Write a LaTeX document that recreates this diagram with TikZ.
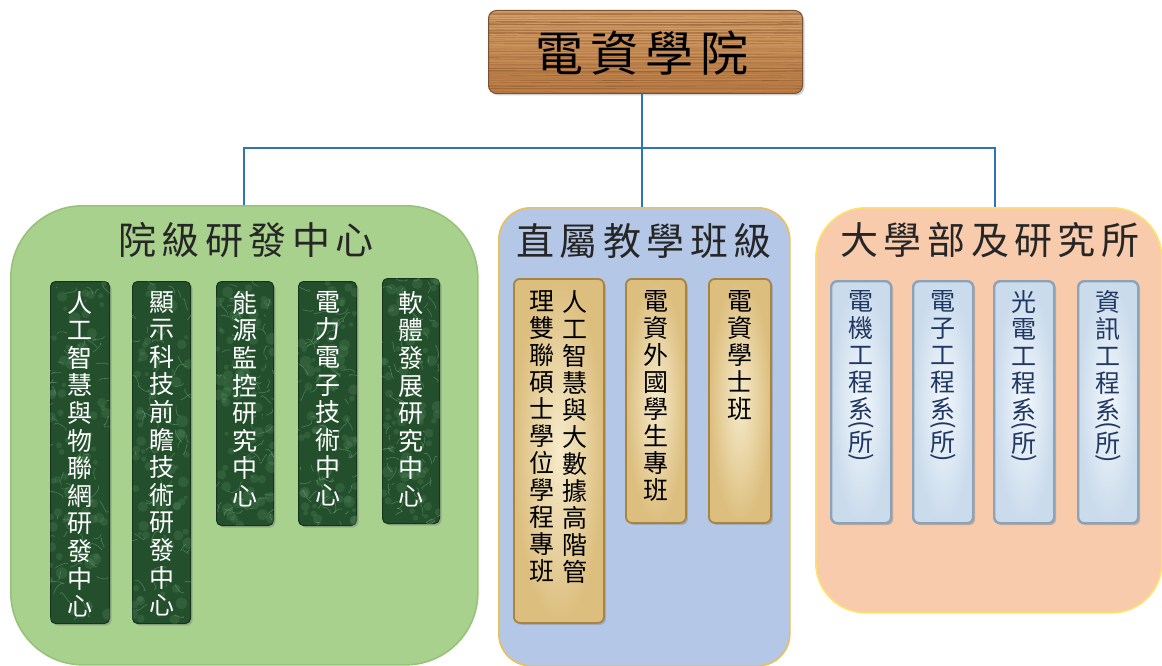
\documentclass[tikz,border=0pt]{standalone}
\usepackage{fontspec}
\usepackage{graphicx}
\setmainfont{Noto Sans CJK TC}
\usetikzlibrary{calc,shadows}
\definecolor{conncol}{HTML}{2E75B6}
\definecolor{gfill}{HTML}{A9D18E}
\definecolor{gline}{HTML}{97C27A}
\definecolor{bfill}{HTML}{B4C7E7}
\definecolor{bline}{HTML}{EBC05A}
\definecolor{ofill}{HTML}{F8CBAD}
\definecolor{oline}{HTML}{FFE26A}
\definecolor{woodtop}{HTML}{D9A56E}
\definecolor{woodbot}{HTML}{BD7E47}
\definecolor{wooddark}{HTML}{7E4A22}
\definecolor{woodline}{HTML}{7A5334}
\definecolor{mgreen}{HTML}{234F2C}
\definecolor{mgreendark}{HTML}{16331C}
\definecolor{marblelight}{HTML}{6FA87A}
\definecolor{marblevein}{HTML}{8CC498}
\definecolor{parchin}{HTML}{F6EBCB}
\definecolor{parchout}{HTML}{DCBE7E}
\definecolor{parchline}{HTML}{A8843F}
\definecolor{icein}{HTML}{F3F8FC}
\definecolor{iceout}{HTML}{CADBEC}
\definecolor{iceline}{HTML}{8CA2B9}
\definecolor{titlecol}{HTML}{262626}
\definecolor{navy}{HTML}{203864}
\newcommand\tk{\kern5.5pt}
\newcommand\tkb{\kern7pt}
\newcommand\marble[3]{%
\begin{scope}
\clip[rounded corners=5pt] (#1.north west) rectangle (#1.south east);
\foreach \k in {1,...,70}{
 \pgfmathsetmacro\ax{#2*rnd}\pgfmathsetmacro\ay{#3*rnd}
 \pgfmathsetmacro\rr{2+4*rnd}
 \fill[marblelight, opacity=0.18] ($(#1.north west)+(\ax,\ay)$) circle[radius=\rr pt];
}
\foreach \k in {1,...,70}{
 \pgfmathsetmacro\ax{#2*rnd}\pgfmathsetmacro\ay{#3*rnd}
 \pgfmathsetmacro\dx{24*rnd-12}\pgfmathsetmacro\dy{24*rnd-12}
 \pgfmathsetmacro\an{360*rnd}\pgfmathsetmacro\bn{\an+80}
 \draw[marblevein, opacity=0.4, line width=0.6pt] ($(#1.north west)+(\ax,\ay)$) to[out=\an, in=\bn] ++(\dx,\dy);
}
\end{scope}}
\begin{document}
\begin{tikzpicture}[x=1pt,y=-1pt,
  conn/.style={draw=conncol, line width=2pt},
  grp/.style={line width=1.6pt, inner sep=0pt, anchor=north west},
  ttl/.style={font=\fontsize{38}{40}\selectfont, text=titlecol, inner sep=0pt},
  topbox/.style={anchor=north west, inner sep=0pt, rounded corners=8pt, top color=woodtop, bottom color=woodbot, draw=woodline, line width=1pt, drop shadow={opacity=0.35, shadow xshift=2pt, shadow yshift=-2pt}},
  gbox/.style={anchor=north west, inner sep=0pt, rounded corners=5pt, fill=mgreen, draw=mgreendark, line width=1pt, drop shadow={opacity=0.45, shadow xshift=2pt, shadow yshift=-2pt}},
  pbox/.style={anchor=north west, inner sep=0pt, rounded corners=6pt, inner color=parchin, outer color=parchout, draw=parchline, line width=1.8pt, drop shadow={opacity=0.4, shadow xshift=2pt, shadow yshift=-2pt}},
  ibox/.style={anchor=north west, inner sep=0pt, rounded corners=6pt, inner color=icein, outer color=iceout, draw=iceline, line width=2.4pt, drop shadow={opacity=0.4, shadow xshift=2pt, shadow yshift=-2pt}},
  vt/.style={anchor=north, inner sep=0pt, align=center, font={\fontsize{25}{27.6}\selectfont\lineskiplimit=-100pt}},
  vtm/.style={anchor=north, inner sep=0pt, align=center, font={\fontsize{25}{27}\selectfont\lineskiplimit=-100pt}}
]
\useasboundingbox (0,0) rectangle (1162,666);
\fill[white] (0,0) rectangle (1162,666);

% groups
\node[grp, fill=gfill, draw=gline, rounded corners=72pt, minimum width=467pt, minimum height=459pt] (g1) at (10,205) {};
\node[grp, fill=bfill, draw=bline, rounded corners=32pt, minimum width=291pt, minimum height=458pt] (g2) at (498,207) {};
\node[grp, fill=ofill, draw=oline, rounded corners=50pt, minimum width=346pt, minimum height=405pt] (g3) at (815,207) {};

% top node
\node[topbox, minimum width=314pt, minimum height=83pt] (top) at (488,10) {};
\begin{scope}
\clip[rounded corners=8pt] (top.north west) rectangle (top.south east);
\pgfmathsetseed{7}
\foreach \i in {0,...,52}{
  \pgfmathsetmacro\yy{11+\i*1.6+0.8*rnd}
  \pgfmathsetmacro\op{0.12+0.5*rnd}
  \pgfmathsetmacro\wd{0.4+1.0*rnd}
  \pgfmathsetmacro\ya{\yy+3*rnd-1.5}
  \pgfmathsetmacro\yb{\yy+3*rnd-1.5}
  \draw[wooddark, opacity=\op, line width=\wd pt] (488,\yy) .. controls (600,\ya) and (700,\yb) .. (802,\yy);
}
\end{scope}
\node[font=\fontsize{48}{50}\selectfont, text=black, inner sep=0pt] (toptext) at (642,53) {電\tkb 資\tkb 學\tkb 院};

% connectors
\coordinate (hub) at (642,148);
\coordinate (c3) at (995,148);
\draw[conn] (top.south -| hub) -- (hub |- g2.north);
\draw[conn] (g1.north) |- (hub) -| (g3.north -| c3);

% titles
\node[ttl] (t1) at (246,240) {院\tk 級\tk 研\tk 發\tk 中\tk 心};
\node[ttl] (t2) at (644,241) {直\tk 屬\tk 教\tk 學\tk 班\tk 級};
\node[ttl] (t3) at (990,240) {大\tk 學\tk 部\tk 及\tk 研\tk 究\tk 所};

% green boxes
\pgfmathsetseed{11}
\node[gbox, minimum width=59pt, minimum height=342pt] (a1) at (50,281) {};
\marble{a1}{59}{342}
\node[gbox, minimum width=58pt, minimum height=342pt] (a2) at (132,281) {};
\marble{a2}{58}{342}
\node[gbox, minimum width=57pt, minimum height=244pt] (a3) at (216,281) {};
\marble{a3}{57}{244}
\node[gbox, minimum width=58pt, minimum height=244pt] (a4) at (298,281) {};
\marble{a4}{58}{244}
\node[gbox, minimum width=57pt, minimum height=245pt] (a5) at (382,278) {};
\marble{a5}{57}{245}

\node[vt, text=white] (a1t) at (a1.north |- 0,291) {人\\工\\智\\慧\\與\\物\\聯\\網\\研\\發\\中\\心};
\node[vt, text=white] (a2t) at (a2.north |- 0,291) {顯\\示\\科\\技\\前\\瞻\\技\\術\\研\\發\\中\\心};
\node[vt, text=white] (a3t) at (a3.north |- 0,291) {能\\源\\監\\控\\研\\究\\中\\心};
\node[vt, text=white] (a4t) at (a4.north |- 0,291) {電\\力\\電\\子\\技\\術\\中\\心};
\node[vt, text=white] (a5t) at (a5.north |- 0,291) {軟\\體\\發\\展\\研\\究\\中\\心};

% middle boxes
\node[pbox, minimum width=90pt, minimum height=344pt] (b1) at (513,278) {};
\node[pbox, minimum width=60pt, minimum height=244pt] (b2) at (625,278) {};
\node[pbox, minimum width=62pt, minimum height=244pt] (b3) at (708,278) {};
\node[vtm, text=black] (b1r) at (575,290) {人\\工\\智\\慧\\與\\大\\數\\據\\高\\階\\管};
\node[vtm, text=black] (b1l) at (542,290) {理\\雙\\聯\\碩\\士\\學\\位\\學\\程\\專\\班};
\node[vtm, text=black] (b2t) at (b2.north |- 0,290) {電\\資\\外\\國\\學\\生\\專\\班};
\node[vtm, text=black] (b3t) at (b3.north |- 0,290) {電\\資\\學\\士\\班};

% right boxes
\node[ibox, minimum width=60pt, minimum height=242pt] (d1) at (830,280) {};
\node[ibox, minimum width=60pt, minimum height=242pt] (d2) at (912,280) {};
\node[ibox, minimum width=60pt, minimum height=242pt] (d3) at (993,280) {};
\node[ibox, minimum width=60pt, minimum height=242pt] (d4) at (1077,280) {};
\node[vtm, text=navy] (d1t) at (d1.north |- 0,290) {電\\機\\工\\程\\系\\[-25pt]\rotatebox{-90}{(}\\[4pt]所\\[-25pt]\rotatebox{-90}{)}};
\node[vtm, text=navy] (d2t) at (d2.north |- 0,290) {電\\子\\工\\程\\系\\[-25pt]\rotatebox{-90}{(}\\[4pt]所\\[-25pt]\rotatebox{-90}{)}};
\node[vtm, text=navy] (d3t) at (d3.north |- 0,290) {光\\電\\工\\程\\系\\[-25pt]\rotatebox{-90}{(}\\[4pt]所\\[-25pt]\rotatebox{-90}{)}};
\node[vtm, text=navy] (d4t) at (d4.north |- 0,290) {資\\訊\\工\\程\\系\\[-25pt]\rotatebox{-90}{(}\\[4pt]所\\[-25pt]\rotatebox{-90}{)}};
\end{tikzpicture}
\end{document}
